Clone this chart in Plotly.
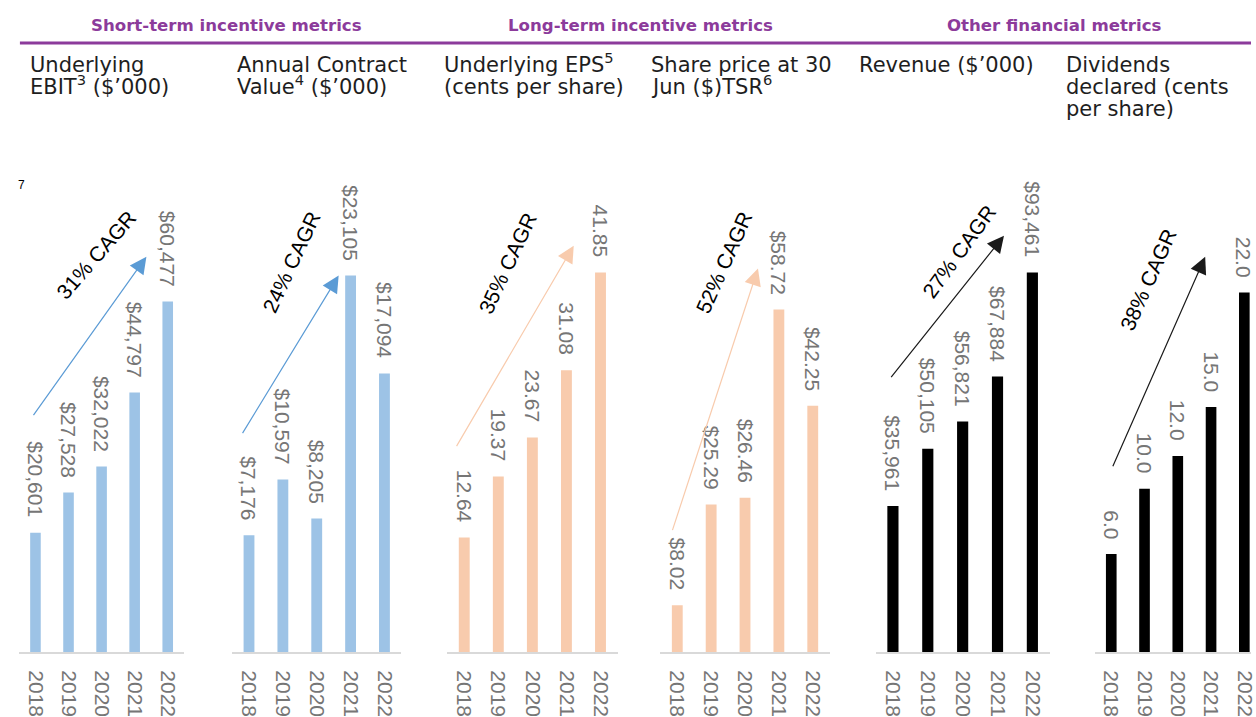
import plotly.graph_objects as go

# ---- data ----
years = ['2018', '2019', '2020', '2021', '2022']
underlying_ebit = [20601, 27528, 32022, 44797, 60477]
annual_contract_value = [7176, 10597, 8205, 23105, 17094]
underlying_eps = [12.64, 19.37, 23.67, 31.08, 41.85]
share_price = [8.02, 25.29, 26.46, 58.72, 42.25]
revenue = [35961, 50105, 56821, 67884, 93461]
dividends = [6.0, 10.0, 12.0, 15.0, 22.0]
cagr = ['31%', '24%', '35%', '52%', '27%', '38%']

sections = ['Short-term incentive metrics', 'Long-term incentive metrics', 'Other financial metrics']
titles = [
    ['Underlying', 'EBIT<sup>3</sup> ($\u2019000)'],
    ['Annual Contract', 'Value<sup>4</sup> ($\u2019000)'],
    ['Underlying EPS<sup>5</sup>', '(cents per share)'],
    ['Share price at 30', 'Jun ($)TSR<sup>6</sup>'],
    ['Revenue ($\u2019000)'],
    ['Dividends', 'declared (cents', 'per share)'],
]
series = [underlying_ebit, annual_contract_value, underlying_eps, share_price, revenue, dividends]
formats = ['${:,.0f}', '${:,.0f}', '{:.2f}', '${:.2f}', '${:,.0f}', '{:.1f}']

# ---- layout geometry (pixels) ----
W, H = 1256, 717
BASE, TOP = 653, 150
BLUE, PEACH, BLACK = '#9DC3E6', '#F8CBAD', '#000000'
ARROW_BLUE, ARROW_PEACH = '#5B9BD5', '#F8CBAD'
PURPLE = '#8C3B9B'
GREY = '#767676'

panels = [
    dict(x0=19, x1=185, color=BLUE, arrow=ARROW_BLUE, max_px=351),
    dict(x0=233, x1=403, color=BLUE, arrow=ARROW_BLUE, max_px=377),
    dict(x0=449, x1=620, color=PEACH, arrow=ARROW_PEACH, max_px=380),
    dict(x0=663, x1=833, color=PEACH, arrow=ARROW_PEACH, max_px=343),
    dict(x0=879, x1=1054, color=BLACK, arrow='#1a1a1a', max_px=380),
    dict(x0=1099, x1=1266, color=BLACK, arrow='#1a1a1a', max_px=360),
]
title_x = [30, 238, 446, 654, 862, 1070]
# tail x, tail y, tip x, tip y, label centre x, label centre y, label angle
cagr_arrows = [
    (33, 417, 147, 257, 97, 255, -49),
    (243, 435, 340, 276, 293, 262, -65),
    (458, 448, 576, 246, 510, 263, -65),
    (675, 532, 761, 269, 727, 263, -66),
    (894, 379, 1008, 236, 963, 252, -54),
    (1117, 468, 1210, 257, 1153, 280, -66),
]


def px_x(x):
    return x / W


def px_y(y):
    return 1 - y / H


fig = go.Figure()
annotations = []
layout_axes = {}

for i, (vals, p, fmt) in enumerate(zip(series, panels, formats)):
    n = i + 1
    sfx = '' if n == 1 else str(n)
    fig.add_trace(go.Bar(
        x=years, y=vals, xaxis='x' + sfx, yaxis='y' + sfx,
        marker=dict(color=p['color'], line=dict(width=0)),
        width=0.32, showlegend=False,
    ))
    band = (p['x1'] - p['x0']) / len(years)
    x1 = min(p['x1'], W)
    xr = [-0.5, -0.5 + (x1 - p['x0']) / band]
    ytop = max(vals) * (BASE - TOP) / p['max_px']
    layout_axes['xaxis' + sfx] = dict(
        domain=[px_x(p['x0']), px_x(x1)], anchor='y' + sfx, type='category',
        range=xr, showline=True, linecolor='#D9D9D9', linewidth=2,
        showgrid=False, zeroline=False, ticks='', tickangle=90,
        tickfont=dict(family='Liberation Sans, Arial', size=21, color=GREY),
        ticklabelstandoff=12,
    )
    layout_axes['yaxis' + sfx] = dict(
        domain=[px_y(BASE), px_y(TOP)], anchor='x' + sfx,
        range=[0, ytop], visible=False,
    )
    # value labels above bars (x given as category index)
    for j, v in enumerate(vals):
        annotations.append(dict(
            x=j, y=v, xref='x' + sfx, yref='y' + sfx, text=fmt.format(v),
            showarrow=False, textangle=90, yanchor='bottom', xanchor='center',
            yshift=13, font=dict(family='Liberation Sans, Arial', size=21, color=GREY),
        ))
    # panel titles, one annotation per line so the line spacing stays tight
    for k, line in enumerate(titles[i]):
        annotations.append(dict(
            x=px_x(title_x[i] - 2), y=px_y(79 + 22 * k), xref='paper', yref='paper',
            text=line, showarrow=False, xanchor='left', yanchor='bottom',
            font=dict(family='DejaVu Sans', size=21, color='#1e1e1e'),
        ))
    # CAGR arrow + label
    tx, ty, hx, hy, lx, ly, ang = cagr_arrows[i]
    annotations.append(dict(
        x=px_x(hx), y=px_y(hy), xref='paper', yref='paper', text='',
        showarrow=True, axref='pixel', ayref='pixel', ax=tx - hx, ay=ty - hy,
        arrowhead=2, arrowsize=2.8, arrowwidth=1.2, arrowcolor=p['arrow'], standoff=0,
    ))
    annotations.append(dict(
        x=px_x(lx), y=px_y(ly), xref='paper', yref='paper',
        text=cagr[i] + ' CAGR', showarrow=False, textangle=ang,
        xanchor='center', yanchor='middle',
        font=dict(family='Liberation Sans, Arial', size=21, color='#000000'),
    ))

# section headers
for name, cx in zip(sections, [227, 643, 1059]):
    annotations.append(dict(
        x=px_x(cx), y=px_y(26), xref='paper', yref='paper', text='<b>' + name + '</b>',
        showarrow=False, xanchor='center', yanchor='middle',
        font=dict(family='DejaVu Sans', size=16.6, color=PURPLE),
    ))

# stray footnote marker
annotations.append(dict(
    x=px_x(22), y=px_y(185), xref='paper', yref='paper', text='7',
    showarrow=False, xanchor='center', yanchor='middle',
    font=dict(family='Liberation Sans, Arial', size=12, color='#000000'),
))

fig.update_layout(
    width=W, height=H,
    margin=dict(l=0, r=0, t=0, b=0),
    paper_bgcolor='white', plot_bgcolor='white',
    bargap=0.68,
    annotations=annotations,
    shapes=[dict(type='line', xref='paper', yref='paper',
                 x0=px_x(20), x1=1, y0=px_y(43), y1=px_y(43),
                 line=dict(color=PURPLE, width=3))],
    **layout_axes,
)

# drop the default 8px body margin so the figure fills the window exactly
fig.write_html('out.html', config={'displayModeBar': False},
               post_script="document.body.style.margin='0px';")
